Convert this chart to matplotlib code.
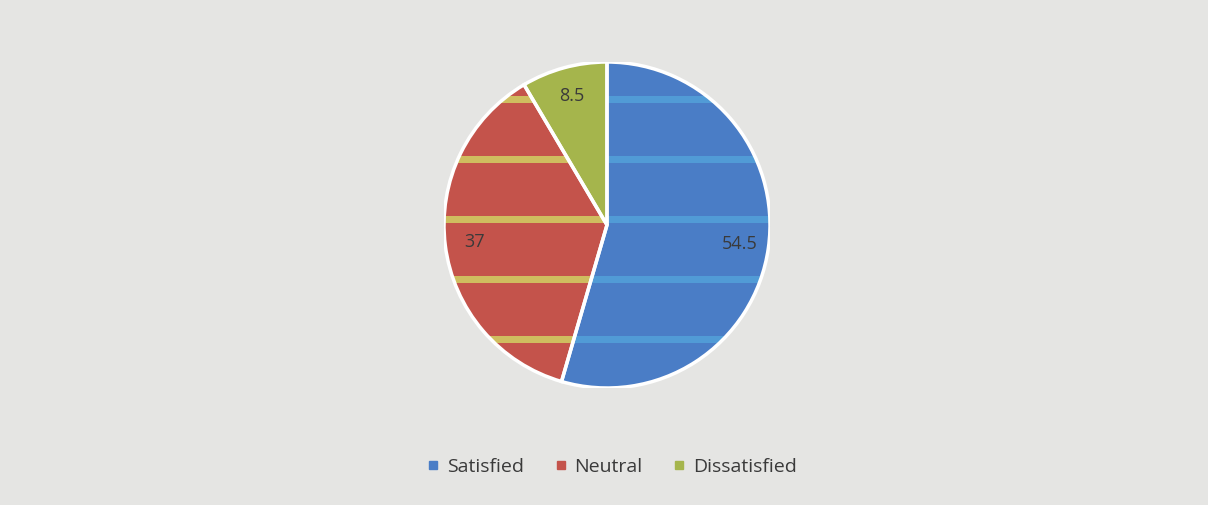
import matplotlib
matplotlib.use("Agg")
import matplotlib.pyplot as plt
from matplotlib.patches import Rectangle, Wedge
import numpy as np

categories = ["Satisfied", "Neutral", "Dissatisfied"]
values = [54.5, 37, 8.5]
colors = ["#4a7dc6", "#c4534b", "#a5b54c"]
stripe_colors = ["#519bd6", "#cfbd5f", None]

plt.rcParams["font.family"] = ["Open Sans", "DejaVu Sans"]

fig = plt.figure(figsize=(12.08, 5.05), dpi=100)
fig.patch.set_facecolor("#e5e5e3")

# pie axes: centre ~ (607, 225) px, radius ~163 px
W, H = 1208, 505
cx, cy, r = 607, 225, 163
ax = fig.add_axes([(cx - r) / W, (H - cy - r) / H, 2 * r / W, 2 * r / H])
ax.set_facecolor("none")

total = sum(values)
wedges, texts, autotexts = ax.pie(
    values, colors=colors, startangle=90, counterclock=False,
    autopct=lambda p: f"{p * total / 100:g}", pctdistance=0.82,
    wedgeprops=dict(linewidth=0),
    textprops=dict(color="#3a3a3a", fontsize=13, zorder=10),
)

# horizontal stripes like the printed pattern fill
for w, sc in zip(wedges, stripe_colors):
    if sc is not None:
        for y in np.arange(0.77, -1.0, -0.368):
            stripe = Rectangle((-1.1, y - 0.02), 2.2, 0.04, color=sc, lw=0, zorder=3)
            ax.add_patch(stripe)
            stripe.set_clip_path(w)
    # white separators on top of the stripes
    ax.add_patch(Wedge(w.center, w.r, w.theta1, w.theta2, facecolor="none",
                       edgecolor="white", linewidth=2.5, zorder=5))

ax.set_xlim(-1, 1)
ax.set_ylim(-1, 1)
ax.set_aspect("equal")
ax.axis("off")

handles = [plt.Line2D([], [], marker="s", linestyle="", markersize=6, color=c) for c in colors]
fig.legend(handles, categories, loc="center", bbox_to_anchor=(612 / W, 1 - 467 / H),
           ncol=3, frameon=False, fontsize=14, handlelength=0.6, handletextpad=0.4,
           columnspacing=1.6, labelcolor="#3a3a3a")

fig.savefig("out.png", dpi=100, facecolor=fig.get_facecolor())
